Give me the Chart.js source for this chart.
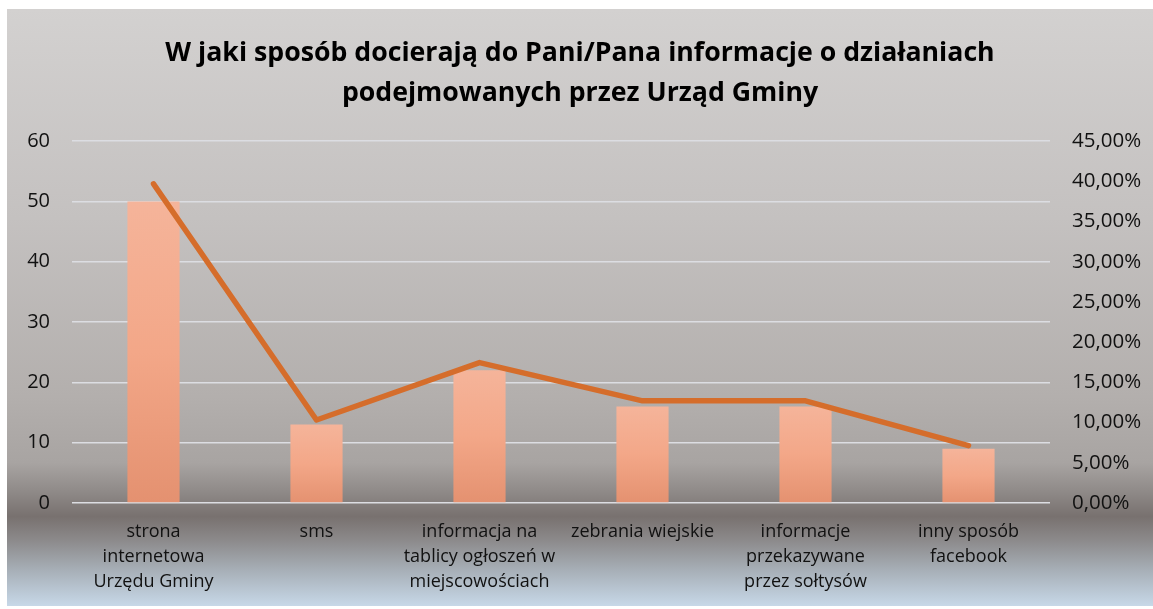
<!DOCTYPE html>
<html>
<head>
<meta charset="utf-8">
<script src="https://cdn.jsdelivr.net/npm/chart.js@4"></script>
<style>
  html, body { margin: 0; padding: 0; background: #ffffff; }
  #wrap {
    position: absolute; left: 7px; top: 9px; width: 1146px; height: 597px;
    background: linear-gradient(to bottom,
      #d3d1d0 0%, #c4c1c0 35%, #b3afad 65%, #a8a4a2 76%,
      #8e8987 81%, #78716f 85%, #8c8a8b 89%, #a7afb7 94%, #c7d8e8 100%);
  }
</style>
</head>
<body>
<div id="wrap"><canvas id="chart" width="1146" height="597"></canvas></div>
<script>
// --- datos ---
const categories = [
    ["strona", "internetowa", "Urzędu Gminy"],
    ["sms"],
    ["informacja na", "tablicy ogłoszeń w", "miejscowościach"],
    ["zebrania wiejskie"],
    ["informacje", "przekazywane", "przez sołtysów"],
    ["inny sposób", "facebook"],
];
const counts = [50, 13, 22, 16, 16, 9];
const shares = [39.68, 10.32, 17.46, 12.7, 12.7, 7.14];
const leftTicks = [0, 10, 20, 30, 40, 50, 60];
const rightTicks = [0, 5, 10, 15, 20, 25, 30, 35, 40, 45];

const fontFamily = "'Open Sans', sans-serif";

// gradiente por barra: claro arriba, más oscuro abajo
function barFill(context) {
    const chart = context.chart;
    const y = chart.scales.y;
    if (!chart.chartArea || !y) return "#f2a585";
    const top = y.getPixelForValue(context.raw);
    const base = y.getPixelForValue(0);
    const g = chart.ctx.createLinearGradient(0, top, 0, base);
    g.addColorStop(0, "#f5b49a");
    g.addColorStop(0.5, "#f3a788");
    g.addColorStop(1, "#e49170");
    return g;
}

new Chart(document.getElementById("chart"), {
    data: {
        labels: categories,
        datasets: [
            {
                type: "line",
                data: shares,
                yAxisID: "y2",
                borderColor: "#d56d2b",
                borderWidth: 5.5,
                pointRadius: 0,
                tension: 0,
                borderCapStyle: "round",
                borderJoinStyle: "round",
                order: 0,
            },
            {
                type: "bar",
                data: counts,
                yAxisID: "y",
                backgroundColor: barFill,
                barPercentage: 0.32,
                categoryPercentage: 1,
                order: 1,
            },
        ],
    },
    options: {
        responsive: false,
        animation: false,
        layout: { padding: 0 },
        plugins: {
            legend: { display: false },
            tooltip: { enabled: false },
            title: {
                display: true,
                text: [
                    "W jaki sposób docierają do Pani/Pana informacje o działaniach",
                    "podejmowanych przez Urząd Gminy",
                ],
                color: "#000000",
                font: { family: fontFamily, size: 26.7, weight: "bold", lineHeight: 1.5 },
                padding: { top: 24, bottom: 28 },
            },
        },
        scales: {
            x: {
                grid: { display: false },
                border: { display: false },
                ticks: {
                    color: "#111111",
                    font: { family: fontFamily, size: 18, lineHeight: 1.39 },
                    padding: 8,
                    maxRotation: 0,
                    autoSkip: false,
                },
                afterFit: (s) => { s.height = 103; },
            },
            y: {
                position: "left",
                min: 0,
                max: 60,
                afterBuildTicks: (s) => { s.ticks = leftTicks.map((v) => ({ value: v })); },
                grid: { color: "#dcdde2", lineWidth: 1.5, drawTicks: false },
                border: { display: false },
                ticks: {
                    color: "#111111",
                    font: { family: fontFamily, size: 20 },
                    padding: 22,
                },
                afterFit: (s) => { s.width = 65; },
            },
            y2: {
                position: "right",
                min: 0,
                max: 45,
                afterBuildTicks: (s) => { s.ticks = rightTicks.map((v) => ({ value: v })); },
                grid: { display: false },
                border: { display: false },
                ticks: {
                    color: "#111111",
                    font: { family: fontFamily, size: 20.5 },
                    padding: 14,
                    callback: (v) => v.toFixed(2).replace(".", ",") + "%",
                },
                afterFit: (s) => { s.width = 103; },
            },
        },
    },
});
</script>
</body>
</html>
